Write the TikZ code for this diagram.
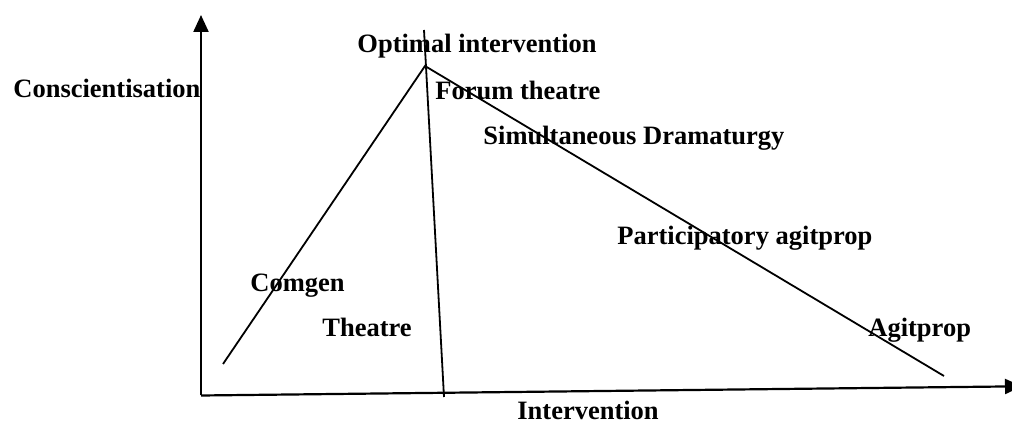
\documentclass[tikz,border=0pt]{standalone}
\usepackage{fontspec}
\setmainfont{Liberation Serif}
\usetikzlibrary{arrows.meta}
\begin{document}
\begin{tikzpicture}[x=0.5pt,y=-0.5pt,
  lbl/.style={anchor=base west,inner sep=0pt,font=\fontsize{13.25}{15}\selectfont\bfseries},
  axis/.style={line width=1.1pt,-{Triangle[length=8.5pt,width=7.5pt]}},
  curve/.style={line width=0.9pt}]
\useasboundingbox (0,0) rectangle (1012,432);
% axes
\coordinate (O) at (201,395.5);
\coordinate (ytip) at (201,15);
\coordinate (xtip) at (1022,386.3);
\draw[axis] (O) -- (ytip);
\draw[axis] (O) -- (xtip);
% key points of the curve
\coordinate (peak) at (425,66);
\coordinate (lstart) at (223,364);
\coordinate (rend) at (944,376);
\coordinate (vtop) at (424,30);
\coordinate (vbot) at (444,397);
\draw[curve] (lstart) -- (peak) -- (rend);
\draw[curve] (vtop) -- (vbot);
% labels
\node[lbl] (opt) at (357,53) {Optimal intervention};
\node[lbl] (consc) at (13,98) {Conscientisation};
\node[lbl] (forum) at (435,100) {Forum theatre};
\node[lbl] (simul) at (483,145) {Simultaneous Dramaturgy};
\node[lbl] (partic) at (617,245) {Participatory agitprop};
\node[lbl] (comgen) at (250,292) {Comgen};
\node[lbl] (theatre) at (322,337) {Theatre};
\node[lbl] (agit) at (868,337) {Agitprop};
\node[lbl] (interv) at (517,420) {Intervention};
\end{tikzpicture}
\end{document}
